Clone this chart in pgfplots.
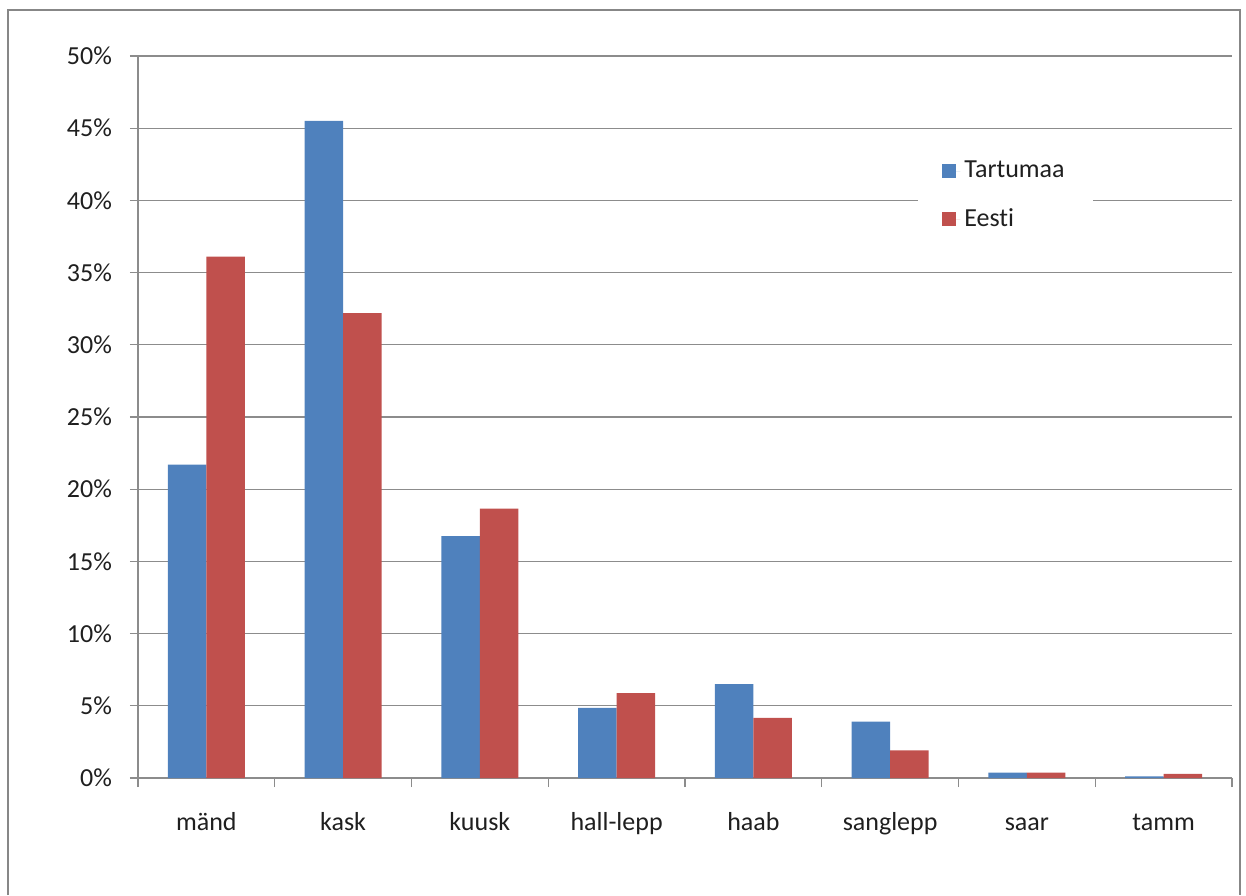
\documentclass[border=0pt]{standalone}
\usepackage{fontspec}
\setmainfont{Carlito}[Ligatures=NoCommon]
\usepackage{pgfplots}
\pgfplotsset{compat=1.18}
\definecolor{xlblue}{HTML}{4F81BD}
\definecolor{xlred}{HTML}{C0504D}
\definecolor{gridgray}{HTML}{8C8C8C}
\definecolor{framegray}{HTML}{878787}
\begin{document}
\begin{tikzpicture}
  % 1 px of the reference = 0.5pt; axis corner (O) is at px (138,778)
  \begin{axis}[
      scale only axis,
      width=547pt, height=361pt,
      ybar=0pt, bar width=19.25pt,
      xmin=-0.5, xmax=7.5,
      ymin=0, ymax=50,
      xtick={0,...,7},
      xticklabels={mänd,kask,kuusk,hall-lepp,haab,sanglepp,saar,tamm},
      minor xtick={-0.5,0.5,...,7.5},
      major x tick style={draw=none},
      minor x tick style={gridgray, line width=0.6pt},
      minor tick length=4.5pt,
      ytick={0,5,...,50},
      yticklabel={\pgfmathprintnumber{\tick}\%},
      /pgf/number format/assume math mode=true,
      y tick style={gridgray, line width=0.6pt},
      major tick length=4pt,
      tick align=outside,
      axis x line*=bottom, axis y line*=left,
      axis line style={gridgray, line width=0.6pt, -},
      ymajorgrids, grid style={gridgray, line width=0.6pt},
      tick label style={font=\fontsize{13}{15}\selectfont, text=black!88},
      typeset ticklabels with strut,
      xticklabel style={yshift=-8pt},
      yticklabel style={xshift=-5.5pt},
      legend style={at={(0.713,0.877)}, anchor=north west, draw=none, fill=white,
        font=\fontsize{13}{15}\selectfont, text=black!88,
        inner xsep=12pt, inner ysep=6pt, row sep=10pt,
        legend cell align=left},
      legend image code/.code={
        \fill[#1] (0pt,-3.5pt) rectangle (7pt,3.5pt);
        \path (0pt,0pt) -- (9pt,0pt);},
    ]
    \coordinate (O) at (rel axis cs:0,0);
    \addplot[fill=xlblue, draw=none] coordinates {
      (0,21.7) (1,45.5) (2,16.75) (3,4.86) (4,6.5) (5,3.9) (6,0.37) (7,0.12)
    };
    \addlegendentry{Tartumaa}
    \addplot[fill=xlred, draw=none] coordinates {
      (0,36.1) (1,32.2) (2,18.65) (3,5.87) (4,4.16) (5,1.91) (6,0.37) (7,0.28)
    };
    \addlegendentry{Eesti}
  \end{axis}
  \draw[framegray, line width=1pt]
    ([shift={(-65pt,-58.5pt)}]O) -- ([shift={(-65pt,384pt)}]O)
    -- ([shift={(551pt,384pt)}]O) -- ([shift={(551pt,-58.5pt)}]O);
  \pgfresetboundingbox
  \path[use as bounding box] ([shift={(-69pt,-58.5pt)}]O) rectangle ([shift={(554pt,389pt)}]O);
\end{tikzpicture}
\end{document}
